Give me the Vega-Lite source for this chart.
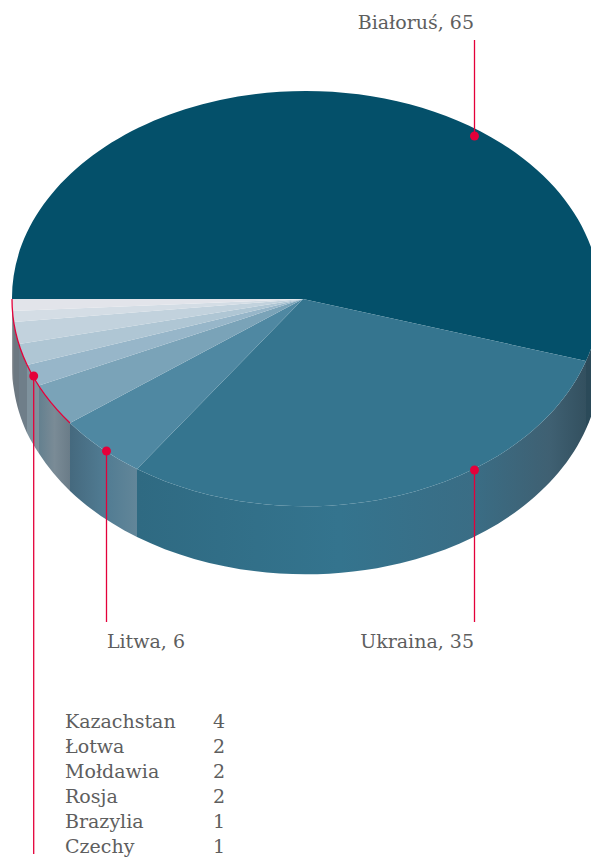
{
"$schema":"https://vega.github.io/schema/vega-lite/v6.json",
"width":591,"height":857,"padding":0,"autosize":{"type":"none"},
"background":"#ffffff",
"config":{"view":{"stroke":null},"axis":{"disable":true},"legend":{"disable":true}},
"datasets":{
"slices":[
{"name":"Białoruś","value":65},{"name":"Ukraina","value":35},{"name":"Litwa","value":6},{"name":"Kazachstan","value":4},{"name":"Łotwa","value":2},{"name":"Mołdawia","value":2},{"name":"Rosja","value":2},{"name":"Brazylia","value":1},{"name":"Czechy","value":1}],
"callouts":[
{"name":"Białoruś","label":"Białoruś, 65","x":474.5,"y":136,"end":40,"labelX":474,"labelY":29},
{"name":"Ukraina","label":"Ukraina, 35","x":474.5,"y":470,"end":622,"labelX":474,"labelY":648},
{"name":"Litwa","label":"Litwa, 6","x":106.5,"y":451,"end":622,"labelX":185,"labelY":648},
{"name":"Kazachstan","label":"","x":33.7,"y":376,"end":854,"labelX":65,"labelY":729}],
"table":[
{"name":"Kazachstan","value":4},{"name":"Łotwa","value":2},{"name":"Mołdawia","value":2},{"name":"Rosja","value":2},{"name":"Brazylia","value":1},{"name":"Czechy","value":1}],
"edge":[{"group":"Pozostałe"}]
},
"encoding":{},
"layer":[
{"data":{"name":"slices"},
"transform":[{"filter":"datum.name !== 'Ukraina' && datum.name !== 'Litwa' && datum.name !== 'Kazachstan'"}],
"mark":{"type":"point","filled":true,"opacity":1,"strokeWidth":0},
"encoding":{
"x":{"datum":303,"type":"quantitative","scale":{"domain":[0,591],"nice":false,"zero":false}},
"y":{"datum":299,"type":"quantitative","scale":{"domain":[0,857],"nice":false,"zero":false,"reverse":true}},
"size":{"value":4},
"shape":{"field":"name","type":"nominal","sort":null,"legend":null,"scale":{"domain":["Białoruś","Łotwa","Mołdawia","Rosja","Brazylia","Czechy"],"range":[
"M297 0A294 207 0 0 1 283 62L283 130A294 207 0 0 0 297 68Z",
"M-264 86.5A294 207 0 0 1 -276 66L-276 134A294 207 0 0 0 -264 154.5Z",
"M-276 66A294 207 0 0 1 -284 45L-284 113A294 207 0 0 0 -276 134Z",
"M-284 45A294 207 0 0 1 -289 23L-289 91A294 207 0 0 0 -284 113Z",
"M-289 23A294 207 0 0 1 -290.5 12L-290.5 80A294 207 0 0 0 -289 91Z",
"M-290.5 12A294 207 0 0 1 -291 0L-291 68A294 207 0 0 0 -290.5 80Z"]}},
"fill":{"field":"name","type":"nominal","sort":null,"legend":null,"scale":{"domain":["Białoruś","Łotwa","Mołdawia","Rosja","Brazylia","Czechy"],"range":["#2b4a59","#7f929d","#6f7e89","#6c7881","#747d84","#666e75"]}}
}},
{"data":{"name":"slices"},
"transform":[{"filter":"datum.name === 'Ukraina'"}],
"mark":{"type":"point","opacity":1,"strokeWidth":0,"fill":{"gradient":"linear","x1":0,"y1":0,"x2":1,"y2":0,"stops":[{"offset":0,"color":"#2f6a82"},{"offset":0.45,"color":"#34748e"},{"offset":0.75,"color":"#3a6d85"},{"offset":0.92,"color":"#3f6072"},{"offset":1,"color":"#33505f"}]}},
"encoding":{
"x":{"datum":303,"type":"quantitative"},
"y":{"datum":299,"type":"quantitative","scale":{"domain":[0,857],"nice":false,"zero":false,"reverse":true}},
"size":{"value":4},
"shape":{"field":"name","type":"nominal","legend":null,"scale":{"domain":["Ukraina"],"range":["M283 62A294 207 0 0 1 -166 170L-166 238A294 207 0 0 0 283 130Z"]}}
}},
{"data":{"name":"slices"},
"transform":[{"filter":"datum.name === 'Litwa'"}],
"mark":{"type":"point","opacity":1,"strokeWidth":0,"fill":{"gradient":"linear","x1":0,"y1":0,"x2":1,"y2":0,"stops":[{"offset":0,"color":"#45697e"},{"offset":0.5,"color":"#507b92"},{"offset":1,"color":"#628699"}]}},
"encoding":{
"x":{"datum":303,"type":"quantitative"},
"y":{"datum":299,"type":"quantitative","scale":{"domain":[0,857],"nice":false,"zero":false,"reverse":true}},
"size":{"value":4},
"shape":{"field":"name","type":"nominal","legend":null,"scale":{"domain":["Litwa"],"range":["M-166 170A294 207 0 0 1 -233 124L-233 192A294 207 0 0 0 -166 238Z"]}}
}},
{"data":{"name":"slices"},
"transform":[{"filter":"datum.name === 'Kazachstan'"}],
"mark":{"type":"point","opacity":1,"strokeWidth":0,"fill":{"gradient":"linear","x1":0,"y1":0,"x2":1,"y2":0,"stops":[{"offset":0,"color":"#64808f"},{"offset":0.5,"color":"#7a8b96"},{"offset":1,"color":"#6a7c88"}]}},
"encoding":{
"x":{"datum":303,"type":"quantitative"},
"y":{"datum":299,"type":"quantitative","scale":{"domain":[0,857],"nice":false,"zero":false,"reverse":true}},
"size":{"value":4},
"shape":{"field":"name","type":"nominal","legend":null,"scale":{"domain":["Kazachstan"],"range":["M-233 124A294 207 0 0 1 -264 86.5L-264 154.5A294 207 0 0 0 -233 192Z"]}}
}},
{"data":{"name":"slices"},
"mark":{"type":"point","filled":true,"opacity":1,"strokeWidth":0},
"encoding":{
"x":{"datum":303,"type":"quantitative"},
"y":{"datum":299,"type":"quantitative","scale":{"domain":[0,857],"nice":false,"zero":false,"reverse":true}},
"size":{"value":4},
"shape":{"field":"name","type":"nominal","sort":null,"legend":null,"scale":{"domain":["Białoruś","Ukraina","Litwa","Kazachstan","Łotwa","Mołdawia","Rosja","Brazylia","Czechy"],"range":[
"M0 0L-291 0A294 207 0 1 1 283 62Z",
"M0 0L283 62A294 207 0 0 1 -166 170Z",
"M0 0L-166 170A294 207 0 0 1 -233 124Z",
"M0 0L-233 124A294 207 0 0 1 -264 86.5Z",
"M0 0L-264 86.5A294 207 0 0 1 -276 66Z",
"M0 0L-276 66A294 207 0 0 1 -284 45Z",
"M0 0L-284 45A294 207 0 0 1 -289 23Z",
"M0 0L-289 23A294 207 0 0 1 -290.5 12Z",
"M0 0L-290.5 12A294 207 0 0 1 -291 0Z"]}},
"fill":{"field":"name","type":"nominal","sort":null,"legend":null,"scale":{"domain":["Białoruś","Ukraina","Litwa","Kazachstan","Łotwa","Mołdawia","Rosja","Brazylia","Czechy"],"range":["#04506a","#35758f","#4f88a2","#7aa3b8","#97b6c9","#afc6d4","#c2d2dd","#d4dde5","#e2e4ea"]}}
}},
{"data":{"name":"edge"},
"mark":{"type":"point","filled":false,"opacity":1,"strokeWidth":1.3,"stroke":"#e4003a"},
"encoding":{
"x":{"datum":303,"type":"quantitative"},
"y":{"datum":299,"type":"quantitative","scale":{"domain":[0,857],"nice":false,"zero":false,"reverse":true}},
"size":{"value":4},
"shape":{"field":"group","type":"nominal","legend":null,"scale":{"domain":["Pozostałe"],"range":["M-233 124A294 207 0 0 1 -291 0"]}}
}},
{"data":{"name":"callouts"},
"mark":{"type":"rule","color":"#e4003a","strokeWidth":1.3},
"encoding":{
"x":{"field":"x","type":"quantitative"},
"y":{"field":"y","type":"quantitative","scale":{"domain":[0,857],"nice":false,"zero":false,"reverse":true}},
"y2":{"field":"end"}
}},
{"data":{"name":"callouts"},
"mark":{"type":"circle","color":"#e4003a","opacity":1,"size":80},
"encoding":{
"x":{"field":"x","type":"quantitative"},
"y":{"field":"y","type":"quantitative","scale":{"domain":[0,857],"nice":false,"zero":false,"reverse":true}}
}},
{"data":{"name":"callouts"},
"mark":{"type":"text","font":"DejaVu Serif","fontSize":19,"align":"right","baseline":"alphabetic","color":"#5e5e5e"},
"encoding":{
"x":{"field":"labelX","type":"quantitative"},
"y":{"field":"labelY","type":"quantitative","scale":{"domain":[0,857],"nice":false,"zero":false,"reverse":true}},
"text":{"field":"label"}
}},
{"data":{"name":"table"},
"mark":{"type":"text","font":"DejaVu Serif","fontSize":19,"align":"left","baseline":"alphabetic","color":"#5e5e5e"},
"encoding":{
"x":{"datum":65,"type":"quantitative"},
"y":{"field":"name","type":"nominal","sort":null,"scale":{"type":"point","range":[728,852.5],"padding":0}},
"text":{"field":"name"}
}},
{"data":{"name":"table"},
"mark":{"type":"text","font":"DejaVu Serif","fontSize":19,"align":"right","baseline":"alphabetic","color":"#5e5e5e"},
"encoding":{
"x":{"datum":225,"type":"quantitative"},
"y":{"field":"name","type":"nominal","sort":null,"scale":{"type":"point","range":[728,852.5],"padding":0}},
"text":{"field":"value"}
}}
],
"resolve":{"scale":{"y":"independent","shape":"independent","fill":"independent"}}
}
